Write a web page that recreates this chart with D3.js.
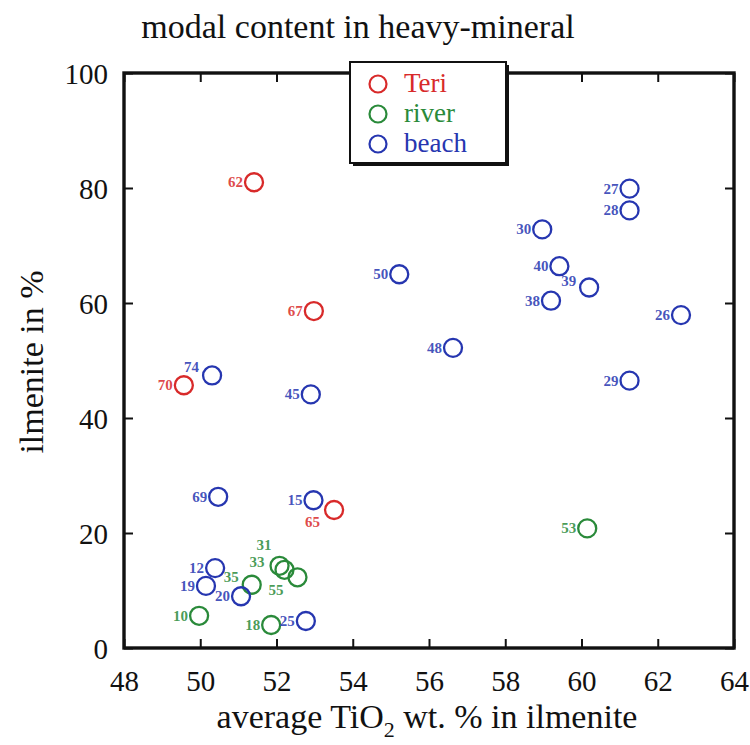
<!DOCTYPE html>
<html>
<head>
<meta charset="utf-8">
<script src="https://cdn.jsdelivr.net/npm/d3@7"></script>
<style>
  html, body { margin: 0; padding: 0; background: #fff; }
  svg { display: block; font-family: "Liberation Serif", "Times New Roman", serif; }
</style>
</head>
<body>
<svg id="chart" width="750" height="745"></svg>
<script>
// Sample groups
const groups = ["Teri", "river", "beach"];
const groupColors = ["#d82a2a", "#2a8a3a", "#2636b0"];

// Teri sands
const teriIds = [62, 67, 70, 65];
const teriTiO2 = [51.41, 52.98, 49.57, 53.51];
const teriIlmenite = [81.0, 58.6, 45.7, 24.0];

// River sands
const riverIds = [53, 31, 33, 55, 35, 10, 18];
const riverTiO2 = [60.15, 52.08, 52.21, 52.55, 51.35, 49.97, 51.86];
const riverIlmenite = [20.8, 14.3, 13.6, 12.3, 11.0, 5.6, 4.0];

// Beach sands
const beachIds = [27, 28, 30, 40, 39, 38, 26, 29, 50, 48, 74, 45, 69, 15, 12, 19, 20, 25];
const beachTiO2 = [61.26, 61.26, 58.97, 59.42, 60.20, 59.20, 62.61, 61.26, 55.22, 56.63, 50.31, 52.90, 50.47, 52.97, 50.39, 50.15, 51.07, 52.77];
const beachIlmenite = [79.9, 76.1, 72.8, 66.4, 62.7, 60.4, 57.9, 46.5, 65.0, 52.2, 47.4, 44.1, 26.3, 25.7, 13.9, 10.8, 9.0, 4.7];

// Axis ticks
const xTicks = [48, 50, 52, 54, 56, 58, 60, 62, 64];
const yTicks = [0, 20, 40, 60, 80, 100];

// Label nudges for crowded samples (pixels, relative to the default left-side spot)
const labelNudge = {
  "river-31": [3, -21],
  "river-33": [-9, -8],
  "river-35": [-2, -8],
  "river-55": [-3, 13],
  "Teri-65": [-3, 12],
  "beach-74": [-2, -8],
  "beach-39": [-2, -6]
};

const points = [];
[[teriIds, teriTiO2, teriIlmenite], [riverIds, riverTiO2, riverIlmenite], [beachIds, beachTiO2, beachIlmenite]]
  .forEach(([ids, xs, ys], gi) => {
    ids.forEach((id, i) => points.push({ group: groups[gi], gi, id, x: xs[i], y: ys[i] }));
  });

const svg = d3.select("#chart");
const plotL = 124, plotR = 734, plotT = 73, plotB = 648;

const x = d3.scaleLinear().domain([48, 64]).range([plotL, plotR]);
const y = d3.scaleLinear().domain([0, 100]).range([plotB, plotT]);

// Title
svg.append("text")
  .attr("x", 358).attr("y", 38)
  .attr("text-anchor", "middle")
  .attr("font-size", 34)
  .attr("fill", "#111")
  .text("modal content in heavy-mineral");

// Inward ticks on all four sides, labels on bottom and left
const tickLen = 9;
const bottomAxis = d3.axisBottom(x).tickValues(xTicks).tickSize(-tickLen).tickPadding(22).tickFormat(d3.format("d"));
const topAxis = d3.axisTop(x).tickValues(xTicks).tickSize(-tickLen).tickFormat("");
const leftAxis = d3.axisLeft(y).tickValues(yTicks).tickSize(-tickLen).tickPadding(16).tickFormat(d3.format("d"));
const rightAxis = d3.axisRight(y).tickValues(yTicks).tickSize(-tickLen).tickFormat("");

function styleAxis(g) {
  g.select(".domain").remove();
  g.selectAll(".tick line").attr("stroke", "#111").attr("stroke-width", 2);
  g.selectAll(".tick text")
    .attr("fill", "#111")
    .attr("font-size", 29)
    .attr("font-family", "Liberation Serif, Times New Roman, serif");
}

svg.append("g").attr("transform", `translate(0,${plotB})`).call(bottomAxis).call(styleAxis);
svg.append("g").attr("transform", `translate(0,${plotT})`).call(topAxis).call(styleAxis);
svg.append("g").attr("transform", `translate(${plotL},0)`).call(leftAxis).call(styleAxis)
  .selectAll(".tick text").attr("dy", "0.35em");
svg.append("g").attr("transform", `translate(${plotR},0)`).call(rightAxis).call(styleAxis);

// Plot frame
svg.append("rect")
  .attr("x", plotL).attr("y", plotT)
  .attr("width", plotR - plotL).attr("height", plotB - plotT)
  .attr("fill", "none").attr("stroke", "#111").attr("stroke-width", 3.4);

// Axis titles
const xTitle = svg.append("text")
  .attr("x", 427).attr("y", 728)
  .attr("text-anchor", "middle")
  .attr("font-size", 34)
  .attr("fill", "#111");
xTitle.append("tspan").text("average TiO");
xTitle.append("tspan").attr("font-size", 22).attr("dy", 9).text("2");
xTitle.append("tspan").attr("dy", -9).text(" wt. % in ilmenite");

svg.append("text")
  .attr("transform", "translate(43,362) rotate(-90)")
  .attr("text-anchor", "middle")
  .attr("font-size", 34)
  .attr("fill", "#111")
  .text("ilmenite in %");

// Sample markers
const r = 9;
svg.append("g").selectAll("circle")
  .data(points)
  .join("circle")
  .attr("cx", d => x(d.x))
  .attr("cy", d => y(d.y))
  .attr("r", r)
  .attr("fill", "none")
  .attr("stroke", d => groupColors[d.gi])
  .attr("stroke-width", 2.3);

// Sample numbers
svg.append("g").selectAll("text")
  .data(points)
  .join("text")
  .attr("x", d => x(d.x) - 11 + (labelNudge[d.group + "-" + d.id] || [0, 0])[0])
  .attr("y", d => y(d.y) + 5 + (labelNudge[d.group + "-" + d.id] || [0, 0])[1])
  .attr("text-anchor", "end")
  .attr("font-size", 15)
  .attr("font-weight", "bold")
  .attr("fill", d => groupColors[d.gi])
  .attr("fill-opacity", 0.85)
  .text(d => d.id);

// Legend
const lg = svg.append("g");
lg.append("rect")
  .attr("x", 353).attr("y", 65).attr("width", 156).attr("height", 101)
  .attr("fill", "#111");
lg.append("rect")
  .attr("x", 350).attr("y", 62).attr("width", 156).attr("height", 101)
  .attr("fill", "#fff").attr("stroke", "#111").attr("stroke-width", 2);
groups.forEach((g, i) => {
  const cy = 84 + i * 30;
  lg.append("circle")
    .attr("cx", 378).attr("cy", cy).attr("r", 8.5)
    .attr("fill", "none").attr("stroke", groupColors[i]).attr("stroke-width", 2.2);
  lg.append("text")
    .attr("x", 404).attr("y", cy + 8)
    .attr("font-size", 27)
    .attr("fill", groupColors[i])
    .text(g);
});
</script>
</body>
</html>
